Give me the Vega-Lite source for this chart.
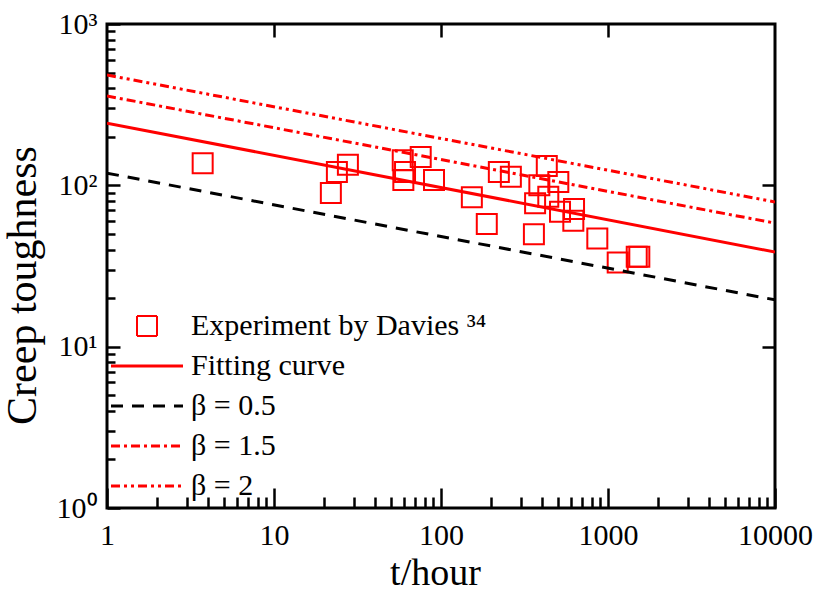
{
  "$schema": "https://vega.github.io/schema/vega-lite/v6.json",
  "autosize": "none",
  "width": 668,
  "height": 484,
  "padding": {"left": 107, "top": 24, "right": 41, "bottom": 86},
  "background": "white",
  "config": {
    "font": "Liberation Serif",
    "view": {"stroke": "black", "strokeWidth": 3},
    "axis": {"grid": false, "domainColor": "black", "domainWidth": 3, "tickColor": "black", "tickWidth": 2.5, "labelColor": "black", "titleColor": "black", "labelFont": "Liberation Serif", "titleFont": "Liberation Serif", "titleFontWeight": "normal", "labelOverlap": false},
    "legend": {"labelFont": "Liberation Serif", "titleFont": "Liberation Serif"}
  },
  "datasets": {
    "exp": [
      {"t": 3.74, "v": 137, "series": "Experiment"},
      {"t": 21.9, "v": 89.6, "series": "Experiment"},
      {"t": 23.8, "v": 121, "series": "Experiment"},
      {"t": 27.7, "v": 134, "series": "Experiment"},
      {"t": 59.0, "v": 143, "series": "Experiment"},
      {"t": 75.6, "v": 150, "series": "Experiment"},
      {"t": 60.9, "v": 121, "series": "Experiment"},
      {"t": 59.5, "v": 108, "series": "Experiment"},
      {"t": 90.8, "v": 108, "series": "Experiment"},
      {"t": 153, "v": 84.3, "series": "Experiment"},
      {"t": 188, "v": 57.5, "series": "Experiment"},
      {"t": 222, "v": 121, "series": "Experiment"},
      {"t": 262, "v": 113, "series": "Experiment"},
      {"t": 430, "v": 132, "series": "Experiment"},
      {"t": 504, "v": 105, "series": "Experiment"},
      {"t": 388, "v": 100, "series": "Experiment"},
      {"t": 439, "v": 85, "series": "Experiment"},
      {"t": 366, "v": 77.3, "series": "Experiment"},
      {"t": 360, "v": 49.7, "series": "Experiment"},
      {"t": 516, "v": 68.6, "series": "Experiment"},
      {"t": 626, "v": 71.3, "series": "Experiment"},
      {"t": 620, "v": 60.3, "series": "Experiment"},
      {"t": 863, "v": 46.9, "series": "Experiment"},
      {"t": 1143, "v": 33.3, "series": "Experiment"},
      {"t": 1486, "v": 36.1, "series": "Experiment"},
      {"t": 1540, "v": 36.1, "series": "Experiment"}
    ],
    "lines": [
      {"t": 1, "v": 243, "series": "Fitting"},
      {"t": 10000, "v": 38.6, "series": "Fitting"},
      {"t": 1, "v": 119, "series": "b05"},
      {"t": 10000, "v": 19.5, "series": "b05"},
      {"t": 1, "v": 358, "series": "b15"},
      {"t": 10000, "v": 58.3, "series": "b15"},
      {"t": 1, "v": 483, "series": "b2"},
      {"t": 10000, "v": 78.9, "series": "b2"}
    ]
  },
  "resolve": {"axis": {"x": "independent", "y": "independent"}},
  "layer": [
    {
      "data": {"name": "exp"},
      "mark": {"type": "point", "shape": "square", "filled": false, "size": 400, "strokeWidth": 2, "opacity": 1, "clip": true},
      "encoding": {
        "x": {
          "field": "t", "type": "quantitative",
          "scale": {"type": "log", "domain": [1, 10000], "nice": false},
          "axis": {
            "orient": "bottom", "title": null, "labels": false, "domain": false,
            "values": [2,3,4,5,6,7,8,9,20,30,40,50,60,70,80,90,200,300,400,500,600,700,800,900,2000,3000,4000,5000,6000,7000,8000,9000],
            "tickSize": 11, "offset": -11
          }
        },
        "y": {
          "field": "v", "type": "quantitative",
          "scale": {"type": "log", "domain": [1, 1000], "nice": false},
          "axis": {
            "orient": "left", "title": null, "labels": false, "domain": false,
            "values": [2,3,4,5,6,7,8,9,20,30,40,50,60,70,80,90,200,300,400,500,600,700,800,900],
            "tickSize": 8, "offset": -8
          }
        },
        "color": {
          "field": "series", "type": "nominal",
          "scale": {"domain": ["Experiment", "Fitting", "b05", "b15", "b2"], "range": ["#ff0000", "#ff0000", "#000000", "#ff0000", "#ff0000"]},
          "legend": {
            "orient": "none", "legendX": 25, "legendY": 287, "title": null,
            "padding": 0, "symbolSize": 400, "rowPadding": 10, "labelOffset": 29,
            "labelFontSize": 30, "labelFont": "Liberation Serif", "labelColor": "black", "labelLimit": 500,
            "symbolType": {"expr": "datum.value == 'Experiment' ? 'square' : 'M-3.6,0H3.6'"},
            "symbolStrokeWidth": {"expr": "datum.value == 'Experiment' ? 2 : 3"},
            "symbolDash": {"expr": "datum.value == 'b05' ? [12, 9] : datum.value == 'b15' ? [9, 4, 3, 4] : datum.value == 'b2' ? [9, 4, 3, 4, 3, 4] : [1, 0]"},
            "symbolFillColor": "transparent",
            "symbolOpacity": 1,
            "labelExpr": "datum.value == 'Experiment' ? 'Experiment by Davies ³⁴' : datum.value == 'Fitting' ? 'Fitting curve' : datum.value == 'b05' ? 'β = 0.5' : datum.value == 'b15' ? 'β = 1.5' : 'β = 2'"
          }
        }
      }
    },
    {
      "data": {"name": "lines"},
      "transform": [{"filter": "datum.series == 'Fitting'"}],
      "mark": {"type": "line", "strokeWidth": 3, "clip": true},
      "encoding": {
        "x": {
          "field": "t", "type": "quantitative",
          "scale": {"type": "log", "domain": [1, 10000], "nice": false},
          "axis": {
            "orient": "bottom", "domain": false, "offset": -20, "tickSize": 20,
            "title": "t/hour", "titleFontSize": 38, "titlePadding": 4, "titleX": 328,
            "values": [1, 10, 100, 1000, 10000],
            "labelExpr": "'' + datum.value", "labelFlush": false,
            "labelFontSize": 30, "labelPadding": 12
          }
        },
        "y": {
          "field": "v", "type": "quantitative",
          "scale": {"type": "log", "domain": [1, 1000], "nice": false},
          "axis": {
            "orient": "left", "domain": false, "offset": -13, "tickSize": 13,
            "title": "Creep toughness", "titleFontSize": 42, "titlePadding": 12, "titleY": 261,
            "values": [1, 10, 100, 1000],
            "labelExpr": "datum.value == 1 ? '10⁰' : datum.value == 10 ? '10¹' : datum.value == 100 ? '10²' : '10³'",
            "labelFontSize": 30, "labelPadding": 10
          }
        },
        "color": {"field": "series", "type": "nominal"}
      }
    },
    {
      "data": {"name": "lines"},
      "transform": [{"filter": "datum.series != 'Fitting'"}],
      "mark": {"type": "line", "strokeWidth": 3, "clip": true},
      "encoding": {
        "x": {
          "field": "t", "type": "quantitative",
          "scale": {"type": "log", "domain": [1, 10000], "nice": false},
          "axis": {"orient": "top", "values": [10, 100, 1000], "labels": false, "domain": false, "title": null, "tickSize": 13, "offset": -13}
        },
        "y": {
          "field": "v", "type": "quantitative",
          "scale": {"type": "log", "domain": [1, 1000], "nice": false},
          "axis": {"orient": "right", "values": [10, 100], "labels": false, "domain": false, "title": null, "tickSize": 13, "offset": -13}
        },
        "color": {"field": "series", "type": "nominal"},
        "strokeDash": {
          "field": "series", "type": "nominal", "legend": null,
          "scale": {"domain": ["b05", "b15", "b2"], "range": [[12, 9], [9, 4, 3, 4], [9, 4, 3, 4, 3, 4]]}
        }
      }
    }
  ]
}
